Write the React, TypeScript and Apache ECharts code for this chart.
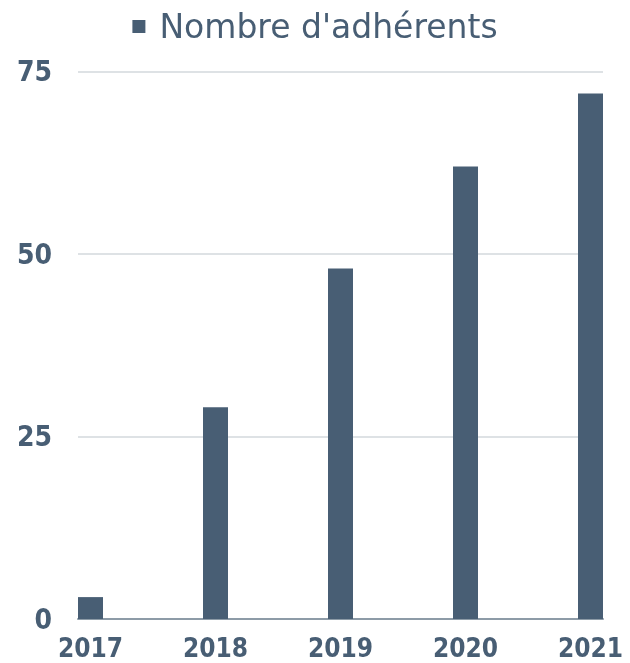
import React, { useEffect, useRef } from "react";
import * as echarts from "echarts";

const categories = ["2017", "2018", "2019", "2020", "2021"];
const memberCounts = [3, 29, 48, 62, 72];
const yTicks = [0, 25, 50, 75];
const seriesName = "Nombre d'adhérents";

const COLOR = "#485e74";

export default function App() {
  const ref = useRef<HTMLDivElement>(null);
  useEffect(() => {
    document.body.style.margin = "0";
    const chart = echarts.init(ref.current!, undefined, { renderer: "svg" });
    const years = categories.map(Number);
    chart.setOption({
      animation: false,
      grid: { left: 78, right: 27, top: 71.5, bottom: 44, containLabel: false },
      legend: {
        show: true,
        top: 5,
        left: "center",
        icon: "rect",
        itemWidth: 13,
        itemHeight: 13,
        textStyle: {
          fontFamily: "'DejaVu Sans', sans-serif",
          fontSize: 33,
          color: COLOR,
          padding: [0, 0, 0, 9],
        },
        data: [seriesName],
      },
      xAxis: {
        type: "value",
        min: years[0] - 0.1,
        max: years[years.length - 1] + 0.1,
        splitLine: { show: false },
        axisTick: { show: false },
        axisLine: { show: true, lineStyle: { color: "#8d9ba7", width: 2 } },
        axisLabel: {
          customValues: years,
          formatter: (v: number) => String(Math.round(v)),
          color: COLOR,
          fontFamily: "'DejaVu Sans Condensed', 'DejaVu Sans', sans-serif",
          fontWeight: "bold",
          fontSize: 26,
          lineHeight: 26,
          margin: 16,
        },
      },
      yAxis: {
        type: "value",
        min: yTicks[0],
        max: yTicks[yTicks.length - 1],
        interval: 25,
        axisLine: { show: false },
        axisTick: { show: false },
        splitLine: { show: true, lineStyle: { color: "#d3d8dc", width: 1.5 } },
        axisLabel: {
          color: COLOR,
          fontFamily: "'DejaVu Sans Condensed', 'DejaVu Sans', sans-serif",
          fontWeight: "bold",
          fontSize: 28,
          margin: 26,
        },
      },
      series: [
        {
          name: seriesName,
          type: "bar",
          barWidth: 25,
          itemStyle: { color: COLOR },
          data: years.map((y, i) => [y, memberCounts[i]]),
        },
      ],
    });
    return () => chart.dispose();
  }, []);
  return (
    <div
      ref={ref}
      style={{ position: "fixed", left: 0, top: 0, width: 630, height: 663 }}
    />
  );
}
